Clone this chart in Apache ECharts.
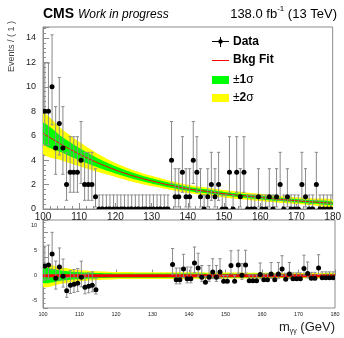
<!DOCTYPE html>
<html>
<head>
<meta charset="utf-8">
<script src="https://cdn.jsdelivr.net/npm/echarts@6/dist/echarts.min.js"></script>
<style>
  html, body { margin: 0; padding: 0; background: #fff; }
  #main { width: 344px; height: 338px; }
</style>
</head>
<body>
<div id="main"></div>
<script>
  // m_gg spectrum, 1 GeV bins from 100 to 180
  var binStart = 100;
  var counts = [
    8, 8, 10, 5, 7, 5, 2, 3, 3, 3, 4, 2, 2, 2, 1,
    0, 0, 0, 0, 0, 0, 0, 0, 0, 0, 0, 0, 0, 0, 0, 0, 0, 0, 0, 0,
    4, 1, 1, 3, 1, 1, 4, 3, 1, 0,
    1, 2, 1, 2, 0, 0, 3, 0, 3, 1,
    3, 0, 0, 0, 1, 0, 0, 1, 0, 1,
    2, 0, 1, 0, 0, 0, 2, 1, 0, 0,
    2, 0, 0, 0, 0
  ];
  // residuals (data - fit), blinded region has no points
  var resid = [
    1.9, 2.1, 4.3, -0.5, 1.7, -0.1, -3.0, -1.9, -1.7, -1.5, -0.3, -2.3, -2.1, -1.9, -2.8,
    null, null, null, null, null, null, null, null, null, null, null, null, null, null, null, null, null, null, null, null,
    2.2, -0.8, -0.8, 1.3, -0.6, -0.6, 2.5, 1.5, -0.3, -1.3,
    -0.3, 0.7, -0.3, 0.7, -1.1, -1.1, 2.0, -1.1, 2.1, 0.1,
    2.1, -1.0, -1.0, -1.0, 0.2, -0.8, -0.8, 0.3, -0.8, 0.3,
    1.3, -0.7, 0.3, -0.6, -0.6, -0.6, 1.4, 0.4, -0.5, -0.5,
    1.5, -0.4, -0.4, -0.4, -0.4
  ];
  // error bar lengths by number of events
  var errLo = [0, 0.83, 1.29, 1.63, 1.91, 2.16, 2.38, 2.58, 2.77, 2.94, 3.11];
  var errHi = [1.15, 2.30, 2.64, 2.92, 3.16, 3.38, 3.58, 3.77, 3.94, 4.11, 4.26];

  // background fit and uncertainty bands
  var fitX = [100, 105, 110, 115, 120, 125, 130, 135, 140, 145, 150, 155, 160, 165, 170, 175, 180];
  var fitY = [6.2, 5.3, 4.5, 3.8, 3.2, 2.7, 2.3, 1.95, 1.65, 1.45, 1.25, 1.1, 0.95, 0.8, 0.68, 0.57, 0.47];
  var sig1 = [0.85, 0.65, 0.5, 0.38, 0.29, 0.24, 0.21, 0.19, 0.17, 0.16, 0.15, 0.15, 0.15, 0.15, 0.14, 0.15, 0.15];
  var sig2 = [1.65, 1.3, 1.0, 0.75, 0.57, 0.48, 0.42, 0.37, 0.33, 0.31, 0.3, 0.3, 0.3, 0.29, 0.28, 0.29, 0.3];
  var resSig1 = [1.4, 1.0, 0.65, 0.5, 0.42, 0.4, 0.4, 0.4, 0.4, 0.38, 0.37, 0.36, 0.35, 0.34, 0.33, 0.33, 0.33];
  var resSig2 = [2.2, 1.6, 1.1, 0.85, 0.7, 0.68, 0.65, 0.65, 0.65, 0.62, 0.6, 0.58, 0.55, 0.53, 0.5, 0.5, 0.5];

  var FONT = 'Liberation Sans';
  var chart = echarts.init(document.getElementById('main'), null, { renderer: 'canvas' });

  //data points for both panels: [x, y, lo, hi]
  var topPts = [];
  var resPts = [];
  counts.forEach(function (n, i) {
    var x = binStart + i + 0.5;
    topPts.push([x, n, errLo[n], errHi[n]]);
    if (resid[i] !== null) {
      resPts.push([x, resid[i], errLo[n], errHi[n]]);
    }
  });

  function renderBars(params, api) {
    var x = api.value(0), y = api.value(1);
    var c = api.coord([x, y]);
    var b = api.coord([x, y - api.value(2)]);
    var t = api.coord([x, y + api.value(3)]);
    var gray = { stroke: '#8a8a8a', lineWidth: 1 };
    return {
      type: 'group',
      children: [
        { type: 'line', shape: { x1: c[0], y1: b[1], x2: c[0], y2: t[1] }, style: gray },
        { type: 'line', shape: { x1: c[0] - 1.6, y1: t[1], x2: c[0] + 1.6, y2: t[1] }, style: gray },
        { type: 'line', shape: { x1: c[0] - 1.6, y1: b[1], x2: c[0] + 1.6, y2: b[1] }, style: gray }
      ]
    };
  }

  function renderDots(params, api) {
    var x = api.value(0), y = api.value(1);
    var c = api.coord([x, y]);
    var l = api.coord([x - 0.5, y]);
    var r = api.coord([x + 0.5, y]);
    return {
      type: 'group',
      children: [
        { type: 'line', shape: { x1: l[0], y1: c[1], x2: r[0], y2: c[1] }, style: { stroke: '#000', lineWidth: 1 } },
        { type: 'circle', shape: { cx: c[0], cy: c[1], r: 2.5 }, style: { fill: '#000' } }
      ]
    };
  }

  //band polygon: one custom item per band, built from the read arrays
  function bandSeries(idx, center, half, color, z) {
    return {
      type: 'custom', xAxisIndex: idx, yAxisIndex: idx, z: z, silent: true, clip: true,
      data: [[fitX[0], center(0)]],
      renderItem: function (params, api) {
        var upper = [], lower = [];
        fitX.forEach(function (x, i) {
          upper.push(api.coord([x, center(i) + half[i]]));
          lower.unshift(api.coord([x, center(i) - half[i]]));
        });
        return {
          type: 'polygon',
          shape: { points: upper.concat(lower), smooth: 0.25 },
          style: { fill: color, stroke: null }
        };
      }
    };
  }

  function fitAt(i) { return fitY[i]; }
  function zeroAt() { return 0; }

  var axisGray = '#8c8c8c';
  function xAxisCfg(idx, labelSize, margin) {
    return {
      type: 'value', gridIndex: idx, min: 100, max: 180, interval: 10,
      axisLine: { lineStyle: { color: axisGray } },
      axisTick: { inside: true, length: 6, lineStyle: { color: axisGray } },
      minorTick: { show: true, splitNumber: 5, length: 3, lineStyle: { color: axisGray } },
      splitLine: { show: false },
      axisLabel: { fontFamily: FONT, fontSize: labelSize, color: '#222', margin: margin }
    };
  }

  var series = [
    bandSeries(0, fitAt, sig2, '#ffff00', 1),
    bandSeries(0, fitAt, sig1, '#00ff00', 2),
    bandSeries(1, zeroAt, resSig2, '#ffff00', 1),
    bandSeries(1, zeroAt, resSig1, '#00ff00', 2)
  ];

  series.push({
    name: 'Bkg Fit', type: 'line', xAxisIndex: 0, yAxisIndex: 0, smooth: 0.4, showSymbol: false, z: 3,
    lineStyle: { color: '#ff0000', width: 1 },
    data: fitX.map(function (x, i) { return [x, fitY[i]]; })
  });
  series.push({
    name: 'fit0', type: 'line', xAxisIndex: 1, yAxisIndex: 1, showSymbol: false, z: 3,
    lineStyle: { color: '#ff0000', width: 3 },
    data: fitX.map(function (x) { return [x, 0]; })
  });
  series.push({ type: 'custom', xAxisIndex: 0, yAxisIndex: 0, z: 4, renderItem: renderBars, data: topPts, clip: true });
  series.push({ type: 'custom', xAxisIndex: 0, yAxisIndex: 0, z: 5, renderItem: renderDots, data: topPts, clip: true });
  series.push({ type: 'custom', xAxisIndex: 1, yAxisIndex: 1, z: 4, renderItem: renderBars, data: resPts, clip: true });
  series.push({ type: 'custom', xAxisIndex: 1, yAxisIndex: 1, z: 5, renderItem: renderDots, data: resPts, clip: true });

  var option = {
    animation: false,
    backgroundColor: '#fff',
    grid: [
      { left: 43, right: 9, top: 27, height: 182, show: true, borderColor: axisGray, borderWidth: 1 },
      { left: 43, right: 9, top: 220, height: 88, show: true, borderColor: axisGray, borderWidth: 1 }
    ],
    xAxis: [xAxisCfg(0, 10, 3), xAxisCfg(1, 5.5, 3)],
    yAxis: [
      {
        type: 'value', gridIndex: 0, min: 0, max: 14.9, interval: 2,
        axisLine: { show: true, lineStyle: { color: axisGray } },
        axisTick: { inside: true, length: 6, lineStyle: { color: axisGray } },
        minorTick: { show: true, splitNumber: 5, length: 3, lineStyle: { color: axisGray } },
        splitLine: { show: false },
        axisLabel: { fontFamily: FONT, fontSize: 9, color: '#222', margin: 7, showMaxLabel: false }
      },
      {
        type: 'value', gridIndex: 1, min: -6.4, max: 11, interval: 5,
        axisLine: { show: true, lineStyle: { color: axisGray } },
        axisTick: { inside: true, length: 5, lineStyle: { color: axisGray } },
        minorTick: { show: true, splitNumber: 5, length: 2.5, lineStyle: { color: axisGray } },
        splitLine: { show: false },
        axisLabel: {
          fontFamily: FONT, fontSize: 5.5, color: '#222', margin: 6,
          customValues: [-5, 0, 5, 10]
        }
      }
    ],
    graphic: [
      { type: 'text', left: 43, top: 7, style: { text: 'CMS', font: 'bold 14px "Liberation Sans"', fill: '#000' } },
      { type: 'text', left: 78, top: 9, style: { text: 'Work in progress', font: 'italic 12px "Liberation Sans"', fill: '#000' } },
      {
        type: 'text', right: 7, top: 5,
        style: {
          text: '{a|138.0 fb}{s|-1}{a| (13 TeV)}',
          fill: '#000',
          rich: {
            a: { fontFamily: FONT, fontSize: 13, lineHeight: 16, verticalAlign: 'bottom' },
            s: { fontFamily: FONT, fontSize: 8, lineHeight: 16, verticalAlign: 'top' }
          }
        }
      },
      {
        type: 'text', x: 12, y: 72, rotation: Math.PI / 2,
        style: { text: 'Events / ( 1 )', font: '9px "Liberation Sans"', fill: '#444', align: 'left', verticalAlign: 'middle' }
      },
      {
        type: 'text', right: 9, top: 321,
        style: {
          text: '{a|m}{s|γγ}{a| (GeV)}',
          fill: '#222',
          rich: {
            a: { fontFamily: FONT, fontSize: 13, lineHeight: 14, verticalAlign: 'top' },
            s: { fontFamily: FONT, fontSize: 7, lineHeight: 14, verticalAlign: 'bottom' }
          }
        }
      },
      // legend
      { type: 'line', shape: { x1: 212, y1: 41.5, x2: 229, y2: 41.5 }, style: { stroke: '#000', lineWidth: 1 } },
      { type: 'line', shape: { x1: 220.5, y1: 37, x2: 220.5, y2: 47 }, style: { stroke: '#000', lineWidth: 1 } },
      { type: 'circle', shape: { cx: 220.5, cy: 41.5, r: 2.2 }, style: { fill: '#000' } },
      { type: 'text', x: 233, y: 42, style: { text: 'Data', font: 'bold 12px "Liberation Sans"', fill: '#000', verticalAlign: 'middle' } },
      { type: 'line', shape: { x1: 212, y1: 60.5, x2: 229, y2: 60.5 }, style: { stroke: '#ff0000', lineWidth: 1 } },
      { type: 'text', x: 233, y: 60, style: { text: 'Bkg Fit', font: 'bold 12px "Liberation Sans"', fill: '#000', verticalAlign: 'middle' } },
      { type: 'rect', shape: { x: 212, y: 76, width: 17, height: 8 }, style: { fill: '#00ff00' } },
      {
        type: 'text', x: 233, y: 80,
        style: {
          text: '{n|±}{b|1}{n|σ}', verticalAlign: 'middle', fill: '#000',
          rich: { n: { fontFamily: FONT, fontSize: 12 }, b: { fontFamily: FONT, fontSize: 12, fontWeight: 'bold' } }
        }
      },
      { type: 'rect', shape: { x: 212, y: 94, width: 17, height: 8 }, style: { fill: '#ffff00' } },
      {
        type: 'text', x: 233, y: 98,
        style: {
          text: '{n|±}{b|2}{n|σ}', verticalAlign: 'middle', fill: '#000',
          rich: { n: { fontFamily: FONT, fontSize: 12 }, b: { fontFamily: FONT, fontSize: 12, fontWeight: 'bold' } }
        }
      }
    ],
    series: series
  };

  chart.setOption(option);
</script>
</body>
</html>
